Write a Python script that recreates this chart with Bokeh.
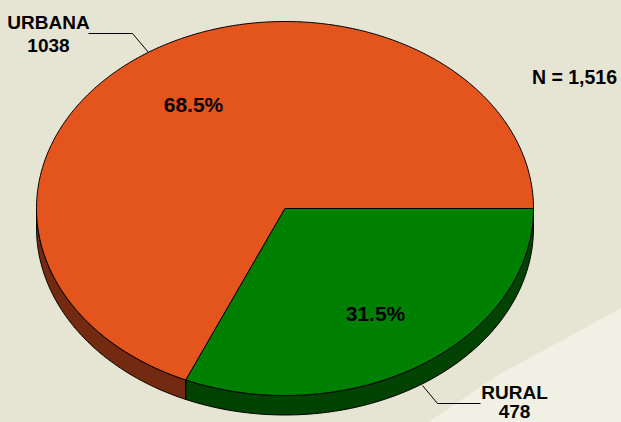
import numpy as np
from bokeh.plotting import figure
from bokeh.models import Range1d
from bokeh.core.properties import value
from bokeh.embed import file_html
from bokeh.resources import INLINE

# ---- data ----
categories = ["URBANA", "RURAL"]
counts = [1038, 478]
total_label = "N = 1,516"

# ---- style ----
BG = "#E6E5D3"
BAND = "#F0F0E5"
TOP_COLORS = ["#E4551D", "#008000"]
SIDE_COLORS = ["#742A10", "#004200"]
FONT = value("Liberation Sans")

CX, CY, RX, RY, DEPTH = 284.5, 208.0, 248.5, 187.0, 19.5

total = sum(counts)
fracs = [c / total for c in counts]

p = figure(width=621, height=422, output_backend="svg", toolbar_location=None,
           x_range=Range1d(0, 621), y_range=Range1d(422, 0),
           min_border=0, background_fill_color=BG, border_fill_color=BG)
p.axis.visible = False
p.grid.visible = False
p.outline_line_color = None

# lighter diagonal band in the lower right corner
bx = [650, 621, 567, 500, 427, 400, 650]
by = [290, 307, 337, 373, 422, 440, 440]
p.patch(bx, by, fill_color=BAND, line_color=None)

# slice angle ranges: first slice counter-clockwise from 3 o'clock, rest follow
starts, ends = [], []
a = 0.0
for f in fracs:
    starts.append(a)
    a += 2 * np.pi * f
    ends.append(a)

def pt(t, dy=0.0):
    return CX + RX * np.cos(t), CY - RY * np.sin(t) + dy

# sides (visible front half: angles between pi and 2pi)
for s, e, col in zip(starts, ends, SIDE_COLORS):
    lo, hi = max(s, np.pi), min(e, 2 * np.pi)
    if hi <= lo:
        continue
    t = np.linspace(lo, hi, 120)
    xt, yt = pt(t)
    xb, yb = pt(t[::-1], DEPTH)
    p.patch(list(xt) + list(xb), list(yt) + list(yb),
            fill_color=col, line_color="black", line_width=1)

# tops
for s, e, col in zip(starts, ends, TOP_COLORS):
    t = np.linspace(s, e, 300)
    xt, yt = pt(t)
    p.patch([CX] + list(xt), [CY] + list(yt),
            fill_color=col, line_color="black", line_width=1)

# percentage labels
pct_x = [193, 375]
pct_y = [104, 313]
pct_text = [f"{100 * f:.1f}%" for f in fracs]
p.text(pct_x, pct_y, text=pct_text, text_font=FONT, text_font_style="bold",
       text_font_size="21px", text_align="center", text_baseline="middle",
       text_color="black")

# category labels
lab_x = [48, 514]
lab_y = [22, 392]
p.text(lab_x, lab_y, text=categories, text_font=FONT, text_font_style="bold",
       text_font_size="19px", text_align="center", text_baseline="middle",
       text_color="black")
cnt_y = [45, 411]
p.text(lab_x, cnt_y, text=[str(c) for c in counts], text_font=FONT,
       text_font_style="bold", text_font_size="19px", text_align="center",
       text_baseline="middle", text_color="black")

# leader lines
p.line([88, 132, 148], [33, 33, 52], line_color="black", line_width=1)
p.line([422, 437, 480], [385, 403, 403], line_color="black", line_width=1)

# total
p.text([574], [76], text=[total_label], text_font=FONT, text_font_style="bold",
       text_font_size="19.5px", text_align="center", text_baseline="middle",
       text_color="black")

html = file_html(p, INLINE)
html = html.replace("</head>", "<style>html, body { background-color: %s; }</style></head>" % BG, 1)
open("out.html", "w").write(html)
